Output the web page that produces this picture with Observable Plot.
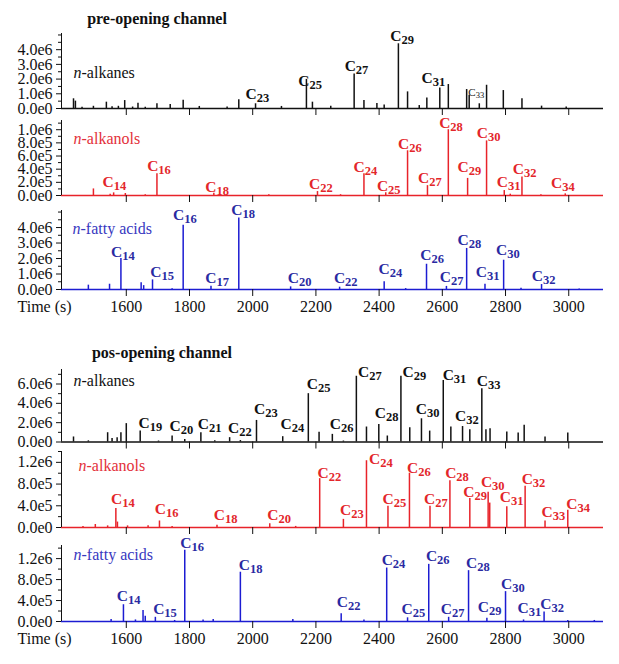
<!DOCTYPE html>
<html><head><meta charset="utf-8">
<script src="https://cdn.jsdelivr.net/npm/d3@7"></script>
<script src="https://cdn.jsdelivr.net/npm/@observablehq/plot@0.6"></script>
<style>
body{margin:0;background:#fff;}
#c{position:relative;width:619px;height:664px;overflow:hidden;font-family:"Liberation Serif","DejaVu Serif",serif;}
.title{position:absolute;font-weight:bold;font-size:16px;line-height:16px;text-align:center;color:#111;white-space:nowrap;}
#c svg{position:absolute;left:0;overflow:visible;}
</style></head><body><div id="c"></div>
<script>
// ---------- data (time s, intensity) ----------
const xTicks = [1600,1800,2000,2200,2400,2600,2800,3000];
const titles = ["pre-opening channel","pos-opening channel"];
const traceNames = ["-alkanes","-alkanols","-fatty acids"];

const preAlkanes = [[1433,0.66e6],[1439,0.5e6],[1460,0.08e6],[1496,0.15e6],[1537,0.43e6],[1555,0.12e6],[1575,0.15e6],[1595,0.54e6],[1620,0.1e6],[1637,0.36e6],[1660,0.08e6],[1697,0.32e6],[1739,0.27e6],[1780,0.56e6],[1831,0.14e6],[1919,0.1e6],[1956,0.59e6],[2009,0.32e6],[2091,0.14e6],[2170,1.98e6],[2189,0.43e6],[2247,0.16e6],[2321,2.35e6],[2352,0.54e6],[2393,0.34e6],[2416,0.23e6],[2461,4.4e6],[2490,1.13e6],[2527,0.2e6],[2551,0.72e6],[2592,1.4e6],[2619,1.63e6],[2677,1.29e6],[2685,0.9e6],[2717,0.32e6],[2740,1.58e6],[2793,1.22e6],[2852,0.66e6],[2914,0.16e6],[2992,0.1e6]];
const preAlkanesLabels = [["23",1977,0.68e6],["25",2144,1.56e6],["27",2291,2.53e6],["29",2435,4.6e6],["31",2534,1.74e6]];
const preAlkanesSmallLabels = [["33",2682,0.88e6]];

const preAlkanols = [[1496,0.1e6],[1549,0.02e6],[1560,0.04e6],[1597,0.03e6],[1660,0.012e6],[1697,0.33e6],[1877,0.035e6],[2051,0.012e6],[2205,0.06e6],[2278,0.012e6],[2352,0.33e6],[2421,0.04e6],[2490,0.68e6],[2553,0.15e6],[2619,1.0e6],[2680,0.26e6],[2740,0.83e6],[2796,0.075e6],[2815,0.02e6],[2852,0.28e6],[2912,0.012e6],[2989,0.025e6]];
const preAlkanolsLabels = [["14",1525,0.126e6],["16",1666,0.37e6],["18",1850,0.06e6],["22",2178,0.1e6],["24",2319,0.35e6],["25",2393,0.065e6],["26",2460,0.71e6],["27",2523,0.19e6],["28",2590,1.03e6],["29",2648,0.35e6],["30",2709,0.87e6],["31",2772,0.126e6],["32",2823,0.33e6],["34",2944,0.11e6]];

const preAcids = [[1480,0.28e6],[1547,0.34e6],[1583,2.0e6],[1647,0.43e6],[1655,0.25e6],[1683,0.62e6],[1745,0.05e6],[1780,4.15e6],[1868,0.21e6],[1956,4.62e6],[2120,0.17e6],[2275,0.15e6],[2416,0.5e6],[2484,0.06e6],[2550,1.63e6],[2613,0.2e6],[2677,2.65e6],[2735,0.34e6],[2794,1.89e6],[2849,0.08e6],[2914,0.32e6],[3033,0.03e6]];
const preAcidsLabels = [["14",1552,2.1e6],["15",1676,0.81e6],["16",1748,4.47e6],["17",1850,0.45e6],["18",1932,4.8e6],["20",2111,0.45e6],["22",2257,0.45e6],["24",2398,1.03e6],["26",2530,1.89e6],["27",2592,0.49e6],["28",2648,2.9e6],["31",2706,0.81e6],["30",2770,2.2e6],["32",2883,0.53e6]];

const posAlkanes = [[1433,0.52e6],[1480,0.12e6],[1541,0.96e6],[1555,0.37e6],[1571,0.45e6],[1583,0.96e6],[1600,1.9e6],[1644,1.13e6],[1702,0.1e6],[1745,0.62e6],[1785,0.27e6],[1836,0.96e6],[1880,0.12e6],[1927,0.45e6],[1961,0.15e6],[2012,2.23e6],[2095,0.55e6],[2176,5.0e6],[2210,1.0e6],[2252,0.79e6],[2287,0.1e6],[2328,6.8e6],[2360,1.55e6],[2399,1.82e6],[2426,0.62e6],[2469,6.8e6],[2497,1.48e6],[2534,2.4e6],[2560,1.13e6],[2603,6.36e6],[2627,1.55e6],[2664,1.6e6],[2687,1.27e6],[2725,5.5e6],[2738,1.27e6],[2751,1.37e6],[2804,1.03e6],[2840,0.93e6],[2859,1.72e6],[2925,0.52e6],[2997,0.93e6]];
const posAlkanesLabels = [["19",1639,1.47e6],["20",1737,1.13e6],["21",1826,1.3e6],["22",1922,0.96e6],["23",2004,2.85e6],["24",2088,1.3e6],["25",2171,5.5e6],["26",2244,1.3e6],["27",2333,6.73e6],["28",2386,2.5e6],["29",2474,6.73e6],["30",2516,2.85e6],["31",2601,6.46e6],["32",2640,2.16e6],["33",2709,5.77e6]];

const posAlkanols = [[1463,0.02e6],[1502,0.055e6],[1541,0.03e6],[1567,0.35e6],[1572,0.1e6],[1604,0.03e6],[1669,0.03e6],[1705,0.12e6],[1745,0.02e6],[1887,0.04e6],[2054,0.07e6],[2136,0.02e6],[2212,0.9e6],[2287,0.15e6],[2360,1.23e6],[2428,0.39e6],[2496,1.0e6],[2561,0.39e6],[2624,0.86e6],[2687,0.535e6],[2745,0.65e6],[2750,0.45e6],[2804,0.38e6],[2862,0.76e6],[2925,0.12e6],[2997,0.32e6]];
const posAlkanolsLabels = [["14",1552,0.44e6],["16",1690,0.245e6],["18",1877,0.135e6],["20",2046,0.135e6],["22",2205,0.92e6],["23",2276,0.23e6],["24",2368,1.17e6],["25",2411,0.43e6],["26",2488,1.0e6],["27",2542,0.43e6],["28",2609,0.92e6],["29",2666,0.56e6],["30",2722,0.74e6],["31",2782,0.47e6],["32",2851,0.81e6],["33",2914,0.185e6],["34",2992,0.35e6]];

const posAcids = [[1552,0.04e6],[1591,0.32e6],[1629,0.03e6],[1653,0.21e6],[1660,0.1e6],[1692,0.08e6],[1753,0.02e6],[1785,1.36e6],[1843,0.03e6],[1875,0.04e6],[1961,0.94e6],[2127,0.04e6],[2280,0.15e6],[2352,0.03e6],[2424,1.02e6],[2490,0.07e6],[2557,1.09e6],[2620,0.08e6],[2683,0.97e6],[2741,0.06e6],[2800,0.57e6],[2857,0.03e6],[2922,0.18e6],[2997,0.02e6],[3081,0.02e6]];
const posAcidsLabels = [["14",1570,0.4e6],["15",1685,0.15e6],["16",1771,1.41e6],["18",1956,0.99e6],["22",2266,0.27e6],["24",2408,1.08e6],["25",2471,0.15e6],["26",2548,1.16e6],["27",2595,0.15e6],["28",2675,1.03e6],["29",2712,0.19e6],["30",2786,0.62e6],["31",2838,0.16e6],["32",2910,0.24e6]];

// y tick values
const ticksA5 = [0,1e6,2e6,3e6,4e6];            // 5e6-scale
const minorA5 = [0.5e6,1.5e6,2.5e6,3.5e6,4.5e6,5e6];
const ticksL1 = [0,2e5,4e5,6e5,8e5,1e6];
const minorL1 = [1e5,3e5,5e5,7e5,9e5,1.1e6];
const ticksA7 = [0,2e6,4e6,6e6];
const minorA7 = [1e6,3e6,5e6,7e6];
const ticksL14 = [0,4e5,8e5,1.2e6];
const minorL14 = [2e5,6e5,1e6,1.4e6];

// ---------- drawing ----------
const XDOM = [1395, 3110];
const FONT = '"Liberation Serif","DejaVu Serif",serif';
const INK = "#111";
const COL = {
  black: {line:"#111", label:"#111", name:"#111"},
  red:   {line:"#e8232a", label:"#e3262b", name:"#e3303a"},
  blue:  {line:"#1c1cd2", label:"#2a2aa2", name:"#3838bf"}
};
function sci(v){
  if (v === 0) return "0.0e0";
  const e = Math.floor(Math.log10(v) + 1e-9);
  return (v / Math.pow(10, e)).toFixed(1) + "e" + e;
}

const traces = [
  {top:33,  zero:108, ymax:5.1e6,  peaks:preAlkanes,  labels:preAlkanesLabels, small:preAlkanesSmallLabels, col:COL.black, name:traceNames[0], ndx:12, ndy:39, major:ticksA5, minor:minorA5},
  {top:120, zero:195, ymax:1.14e6, peaks:preAlkanols, labels:preAlkanolsLabels, col:COL.red,  name:traceNames[1], ndx:12, ndy:18, major:ticksL1, minor:minorL1},
  {top:210, zero:289, ymax:5.1e6,  peaks:preAcids,    labels:preAcidsLabels,   col:COL.blue, name:traceNames[2], ndx:11, ndy:18, major:ticksA5, minor:minorA5, xlabels:true},
  {top:368.5, zero:441, ymax:7.5e6, peaks:posAlkanes, labels:posAlkanesLabels, col:COL.black, name:traceNames[0], ndx:12, ndy:11.5, major:ticksA7, minor:minorA7},
  {top:451, zero:527, ymax:1.4e6,  peaks:posAlkanols, labels:posAlkanolsLabels, col:COL.red,  name:traceNames[1], ndx:17, ndy:14, major:ticksL14, minor:minorL14},
  {top:545, zero:621, ymax:1.45e6, peaks:posAcids,    labels:posAcidsLabels,   col:COL.blue, name:traceNames[2], ndx:12, ndy:9, major:ticksL14, minor:minorL14, xlabels:true}
];

const container = document.getElementById("c");

function makeTrace(o){
  const mt = 6, mb = o.xlabels ? 40 : 10;
  const h = o.zero - o.top;
  const marks = [
    Plot.ruleX(o.peaks, {x: d => d[0], y1: 0, y2: d => d[1], stroke: o.col.line, strokeWidth: 1.5}),
    Plot.ruleY([0], {stroke: o.col.line, strokeWidth: 1.5}),
    Plot.ruleX([XDOM[0]], {y1: 0, y2: o.ymax, stroke: INK, strokeWidth: 1}),
    Plot.axisY({ticks: o.minor, tickSize: 3, tickFormat: () => "", color: INK, label: null}),
    Plot.axisY({ticks: o.major, tickSize: 5, tickPadding: 4, tickFormat: sci, color: INK, fontSize: 16, label: null}),
    Plot.axisX({ticks: xTicks, tickSize: 7, tickPadding: 4, tickFormat: o.xlabels ? (d => String(d)) : (() => ""), color: INK, fontSize: 16, label: null}),
    Plot.text(["n"], {frameAnchor: "top-left", dx: o.ndx, dy: o.ndy, text: d => d, textAnchor: "start", lineAnchor: "middle", fontStyle: "italic", fontSize: 16, fill: o.col.name}),
    Plot.text([o.name], {frameAnchor: "top-left", dx: o.ndx + 8, dy: o.ndy, text: d => d, textAnchor: "start", lineAnchor: "middle", fontSize: 16, fill: o.col.name}),
    Plot.text(o.labels, {x: d => d[1], y: d => d[2], text: () => "C", textAnchor: "start", lineAnchor: "bottom", fontWeight: "bold", fontSize: 15.5, fill: o.col.label}),
    Plot.text(o.labels, {x: d => d[1], y: d => d[2], text: d => d[0], dx: 11.2, dy: 3, textAnchor: "start", lineAnchor: "bottom", fontWeight: "bold", fontSize: 12.5, fill: o.col.label})
  ];
  if (o.small) {
    marks.push(Plot.text(o.small, {x: d => d[1], y: d => d[2], text: () => "C", textAnchor: "start", lineAnchor: "bottom", fontSize: 11, fill: o.col.label}));
    marks.push(Plot.text(o.small, {x: d => d[1], y: d => d[2], text: d => d[0], dx: 7.5, dy: 2, textAnchor: "start", lineAnchor: "bottom", fontSize: 8.5, fill: o.col.label}));
  }
  if (o.xlabels) {
    marks.push(Plot.text(["Time (s)"], {frameAnchor: "bottom-left", dx: -44, dy: 11, text: d => d, textAnchor: "start", lineAnchor: "top", fontSize: 16, fill: INK}));
  }
  const svg = Plot.plot({
    width: 619, height: h + mt + mb,
    marginLeft: 61, marginRight: 16, marginTop: mt, marginBottom: mb,
    x: {domain: XDOM},
    y: {domain: [0, o.ymax]},
    style: {fontFamily: FONT, fontSize: "16px", background: "transparent", overflow: "visible", color: INK},
    marks
  });
  svg.style.top = (o.top - mt) + "px";
  container.appendChild(svg);
}
traces.forEach(makeTrace);

function addTitle(text, cx, baseline){
  const d = document.createElement("div");
  d.className = "title";
  d.textContent = text;
  d.style.left = (cx - 150) + "px";
  d.style.width = "300px";
  d.style.top = (baseline - 13) + "px";
  container.appendChild(d);
}
addTitle(titles[0], 157, 24);
addTitle(titles[1], 162, 358);
</script>
</body></html>
